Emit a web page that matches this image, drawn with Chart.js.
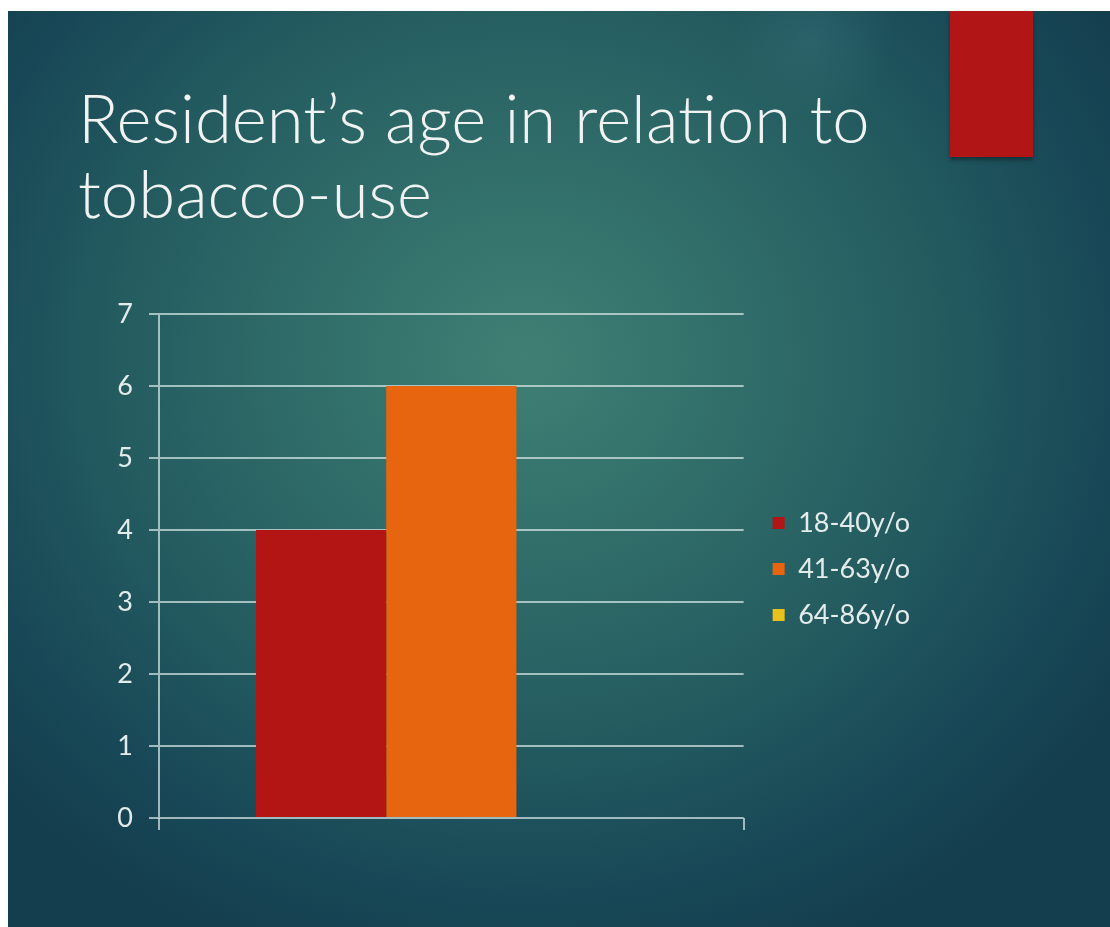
<!DOCTYPE html>
<html>
<head>
<meta charset="utf-8">
<script src="https://cdn.jsdelivr.net/npm/chart.js@4.4.1/dist/chart.umd.min.js"></script>
<style>
  html, body { margin: 0; padding: 0; background: #fff; }
  body { width: 1110px; height: 927px; position: relative; overflow: hidden; }
  .slide {
    position: absolute; left: 8px; top: 11px; right: 0; bottom: 0;
    background:
      radial-gradient(circle at 73% 3%, rgba(70, 130, 140, 0.25) 0, rgba(70, 130, 140, 0) 80px),
      radial-gradient(ellipse 700px 640px at 47% 38%, #3f8074 0%, #316e6a 30%, #245c60 58%, #184857 84%, #143e4e 100%);
    background-color: #143e4e;
  }
  .accent {
    position: absolute; left: 950px; top: 11px; width: 83px; height: 146px;
    background: #b21515;
    box-shadow: 0 3px 4px rgba(0, 0, 0, 0.35);
  }
  .title {
    position: absolute; left: 78px; top: 80px;
    font-family: Lato, "Open Sans", sans-serif; font-weight: 300;
    font-size: 67px; line-height: 75px; color: #f1f3f3;
    white-space: nowrap;
  }
  #chart { position: absolute; left: 0; top: 0; }
</style>
</head>
<body>
<div class="slide"></div>
<div class="accent"></div>
<div class="title">Resident’s age in relation to<br>tobacco-use</div>
<canvas id="chart" width="1110" height="927"></canvas>
<script>
// Tobacco users grouped by age bracket
const categories = ['Tobacco use'];
const ageGroups = ['18-40y/o', '41-63y/o', '64-86y/o'];
const residentCounts = [4, 6, 0];
const groupColors = ['#b31515', '#e8650f', '#e9c11d'];
const yTicks = [0, 1, 2, 3, 4, 5, 6, 7];

const inkColor = '#e4ebeb';
const ruleColor = 'rgba(214, 228, 228, 0.72)';

// shifts the legend box sideways / down after layout
const legendNudge = {
  id: 'legendNudge',
  afterLayout(chart, args, opts) {
    const legend = chart.legend;
    if (!legend) return;
    legend.left += opts.x; legend.right += opts.x;
    legend.top += opts.y; legend.bottom += opts.y;
  }
};

const datasets = ageGroups.map((label, i) => ({
  label: label,
  data: [residentCounts[i]],
  backgroundColor: groupColors[i],
  borderWidth: 0
}));

new Chart(document.getElementById('chart'), {
  type: 'bar',
  data: { labels: categories, datasets: datasets },
  plugins: [legendNudge],
  options: {
    responsive: false,
    animation: false,
    layout: { padding: { left: 60, top: 314, right: 200, bottom: 97 } },
    datasets: { bar: { categoryPercentage: 0.668, barPercentage: 1 } },
    plugins: {
      legend: {
        position: 'right',
        labels: {
          color: inkColor,
          font: { family: 'Lato, "Open Sans", sans-serif', size: 27 },
          boxWidth: 12,
          boxHeight: 12,
          padding: 19
        }
      },
      legendNudge: { x: 10, y: -3 },
      tooltip: { enabled: false }
    },
    scales: {
      x: {
        grid: { drawOnChartArea: false, color: ruleColor, lineWidth: 2, tickLength: 12 },
        border: { display: false },
        ticks: { display: false }
      },
      y: {
        min: yTicks[0],
        max: yTicks[yTicks.length - 1],
        afterFit(scale) { scale.width = 99; },
        afterBuildTicks(scale) { scale.ticks = yTicks.map(v => ({ value: v })); },
        grid: { color: ruleColor, lineWidth: 2, tickLength: 10 },
        border: { color: ruleColor, width: 2 },
        ticks: {
          color: inkColor,
          padding: 16,
          font: { family: 'Lato, "Open Sans", sans-serif', size: 27 }
        }
      }
    }
  }
});
</script>
</body>
</html>
